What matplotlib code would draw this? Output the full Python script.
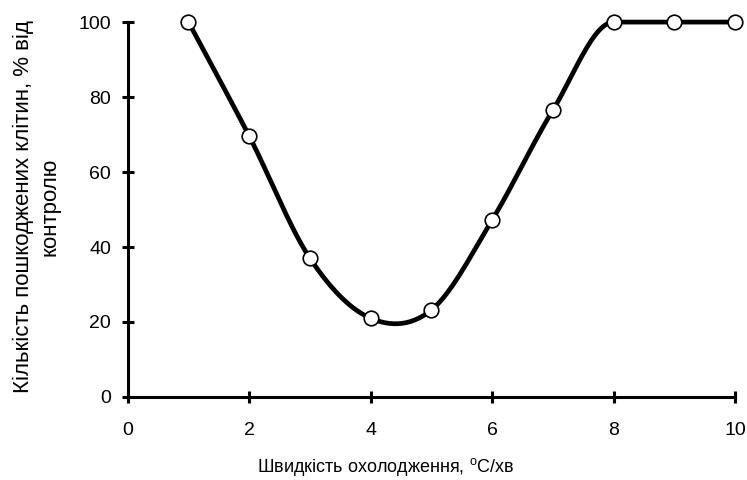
import matplotlib
matplotlib.use("Agg")
import matplotlib.pyplot as plt
import numpy as np

plt.rcParams['font.family'] = ['Liberation Sans', 'DejaVu Sans']

rate = [1, 2, 3, 4, 5, 6, 7, 8, 9, 10]
damaged = [100, 69.6, 37, 21, 23.2, 47.2, 76.5, 100, 100, 100]


def smooth(xs, ys, n=30):
    # Excel-style smoothed line: cubic Bezier through the points,
    # tangents from neighbours, flat where a neighbouring segment is flat
    x = np.asarray(xs, float)
    y = np.asarray(ys, float)
    k = len(x)
    tx = np.zeros(k)
    ty = np.zeros(k)
    for i in range(k):
        a = max(i - 1, 0)
        b = min(i + 1, k - 1)
        tx[i] = (x[b] - x[a]) / 2
        ty[i] = (y[b] - y[a]) / 2
        if (i > 0 and y[i] == y[i - 1]) or (i < k - 1 and y[i] == y[i + 1]):
            ty[i] = 0
    t = np.linspace(0, 1, n)
    ox, oy = [], []
    for i in range(k - 1):
        p1 = np.array([x[i], y[i]])
        p2 = np.array([x[i + 1], y[i + 1]])
        c1 = p1 + np.array([tx[i], ty[i]]) / 3
        c2 = p2 - np.array([tx[i + 1], ty[i + 1]]) / 3
        for p, lst in ((0, ox), (1, oy)):
            lst.extend((1 - t) ** 3 * p1[p] + 3 * (1 - t) ** 2 * t * c1[p]
                       + 3 * (1 - t) * t ** 2 * c2[p] + t ** 3 * p2[p])
    return ox, oy


fig = plt.figure(figsize=(7.47, 4.8), dpi=100)
ax = fig.add_axes([0.171, 0.173, 0.813, 0.781])

sx, sy = smooth(rate, damaged)
ax.plot(sx, sy, color='black', lw=3.4, solid_capstyle='round', zorder=2, clip_on=False)
ax.plot(rate, damaged, 'o', ms=10.5, mfc='white', mec='black', mew=1.2, zorder=3, clip_on=False)

ax.set_xlim(0, 10)
ax.set_ylim(0, 100)
ax.set_xticks(range(0, 11, 2))
ax.set_yticks(range(0, 101, 20))

for s in ['top', 'right']:
    ax.spines[s].set_visible(False)
for s in ['left', 'bottom']:
    ax.spines[s].set_linewidth(2.2)
ax.tick_params(direction='inout', length=8, width=2.2, labelsize=14)
ax.tick_params(axis='y', pad=8)
ax.tick_params(axis='x', pad=14)

ax.set_xlabel(r"Швидкість охолодження, $\mathregular{^{o}}$C/хв", fontsize=13, va='center')
ax.xaxis.set_label_coords(0.425, -0.187)
ax.set_ylabel("Кількість пошкоджених клітин, % від\nконтролю", fontsize=16,
              linespacing=1.4, va='center')
ax.yaxis.set_label_coords(-0.15, 0.507)

fig.savefig("out.png", dpi=100)
